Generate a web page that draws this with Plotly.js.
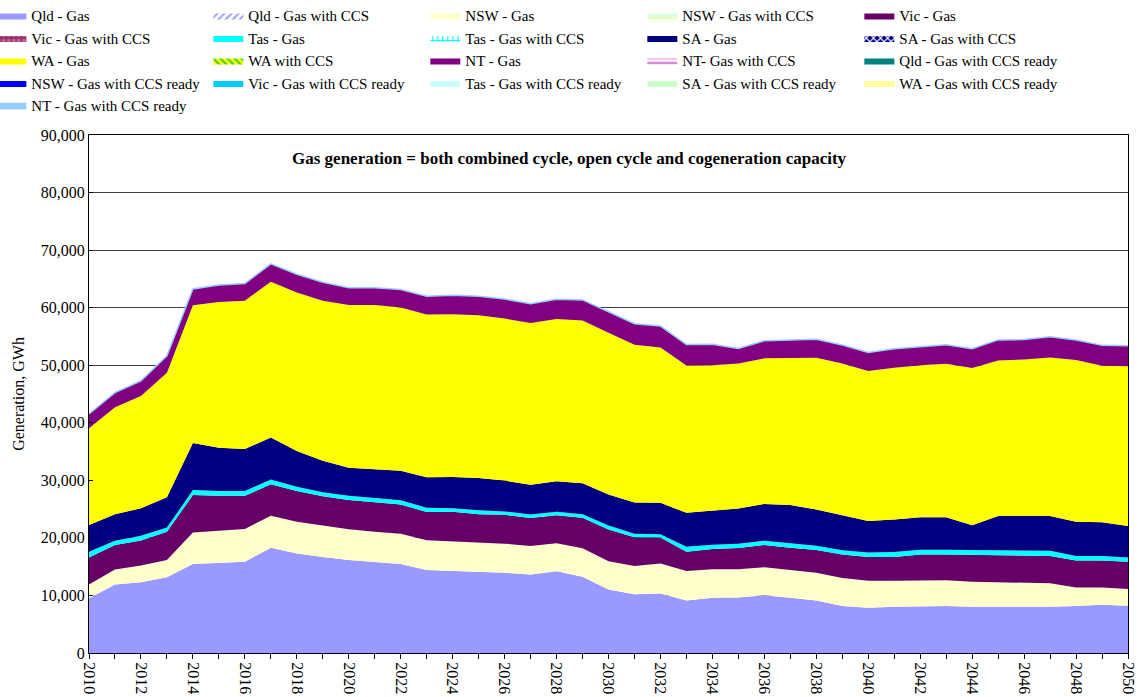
<!DOCTYPE html>
<html><head><meta charset="utf-8">
<script src="https://cdn.plot.ly/plotly-3.0.1.min.js"></script>
<style>html,body{margin:0;padding:0;background:#fff;}#chart{width:1145px;height:697px;}</style>
</head><body><div id="chart"></div>
<script>
const years = [2010,2011,2012,2013,2014,2015,2016,2017,2018,2019,2020,2021,2022,2023,2024,2025,2026,2027,2028,2029,2030,2031,2032,2033,2034,2035,2036,2037,2038,2039,2040,2041,2042,2043,2044,2045,2046,2047,2048,2049,2050];

const qldGas = [9500,11900,12300,13150,15450,15600,15850,18300,17300,16700,16150,15800,15450,14400,14250,14150,13950,13650,14200,13250,11050,10200,10350,9100,9600,9650,10050,9600,9100,8150,7850,8050,8150,8150,8050,8050,8000,8050,8150,8400,8200];
const nswGas = [2400,2600,2900,3000,5500,5600,5700,5550,5500,5450,5350,5250,5250,5200,5150,5100,5050,4950,4850,4950,4900,4900,5200,5150,4950,4900,4850,4800,4850,4900,4700,4500,4500,4500,4350,4250,4200,4050,3250,3000,2900];
const vicGas = [4700,4250,4350,4900,6500,6100,5750,5450,5350,5100,5100,5200,5100,4900,5150,4850,5000,4850,4900,5300,5500,5000,4500,3350,3500,3700,3850,3900,3950,4050,4150,4150,4450,4450,4650,4650,4650,4750,4650,4650,4750];
const tasGas = [1000,750,800,750,850,850,850,850,750,700,700,650,750,750,600,700,600,600,600,600,700,600,600,850,750,750,750,750,750,750,750,850,850,850,850,950,1000,900,800,800,750];
const saGas  = [4650,4600,4800,5250,8200,7500,7300,7300,6200,5450,4900,5050,5100,5300,5450,5600,5350,5200,5300,5400,5400,5450,5450,5900,5950,6100,6400,6650,6300,6100,5500,5650,5650,5650,4300,5900,5900,6050,5950,5850,5450];
const waGas  = [16800,18600,19500,21650,23900,25350,25750,27050,27550,27800,28250,28500,28400,28250,28250,28300,28150,28100,28200,28250,28100,27400,27000,25600,25250,25200,25300,25600,26350,26350,26050,26350,26400,26650,27300,27000,27250,27550,28100,27200,27750];
const ntGas  = [2500,2550,2650,2950,2850,2950,3000,3100,3150,3200,3000,3000,3100,3200,3300,3300,3400,3350,3400,3600,3650,3650,3700,3650,3650,2600,3050,3100,3200,3200,3200,3300,3250,3300,3350,3600,3450,3600,3500,3550,3600];
// CCS and CCS-ready capacity generates nothing in this scenario
const noGeneration = [0,0,0,0,0,0,0,0,0,0,0,0,0,0,0,0,0,0,0,0,0,0,0,0,0,0,0,0,0,0,0,0,0,0,0,0,0,0,0,0,0];

const seriesNames = ['Qld - Gas','Qld - Gas with CCS','NSW - Gas','NSW - Gas with CCS','Vic - Gas','Vic - Gas with CCS','Tas - Gas','Tas - Gas with CCS','SA - Gas','SA - Gas with CCS','WA - Gas','WA with CCS','NT - Gas','NT- Gas with CCS','Qld - Gas with CCS ready','NSW - Gas with CCS ready','Vic - Gas with CCS ready','Tas - Gas with CCS ready','SA - Gas with CCS ready','WA - Gas with CCS ready','NT - Gas with CCS ready'];
const seriesValues = [qldGas,noGeneration,nswGas,noGeneration,vicGas,noGeneration,tasGas,noGeneration,saGas,noGeneration,waGas,noGeneration,ntGas,noGeneration,noGeneration,noGeneration,noGeneration,noGeneration,noGeneration,noGeneration,noGeneration];
const seriesColors = ['#9999FF','#9999FF','#FFFFCC','#CCFFFF','#660066','#993366','#00FFFF','#00FFFF','#000080','#000080','#FFFF00','#33CC33','#800080','#CC66CC','#008080','#0000FF','#00CCFF','#CCFFFF','#CCFFCC','#FFFF99','#99CCFF'];
const seriesPatterns = [null,{shape:'/',fg:'#9999FF',bg:'#ffffff'},null,{shape:'-',fg:'#FFFF99',bg:'#CCFFFF'},null,{shape:'.',fg:'#CC6699',bg:'#993366'},null,{shape:'+',fg:'#00FFFF',bg:'#ffffff'},null,{shape:'x',fg:'#ffffff',bg:'#000080'},null,{shape:'\\',fg:'#33CC33',bg:'#FFFF00'},null,{shape:'-',fg:'#CC66CC',bg:'#ffffff'},null,null,null,null,null,null,null];

const traces = seriesNames.map((name,i) => {
  const t = {
    type:'scatter', mode:'lines', name:name, x:years, y:seriesValues[i],
    stackgroup:'gas', fillcolor:seriesColors[i],
    line:{width:0, color:seriesColors[i], shape:'linear'},
    hoverinfo:'skip'
  };
  if (seriesPatterns[i]) {
    t.fillpattern = {shape:seriesPatterns[i].shape, fgcolor:seriesPatterns[i].fg, bgcolor:seriesPatterns[i].bg, size:5, solidity:0.4};
  }
  if (i === seriesNames.length-1) { t.line = {width:1.5, color:seriesColors[i]}; }
  return t;
});

const layout = {
  width:1145, height:697,
  margin:{l:89, r:17, t:135, b:44, autoexpand:false},
  paper_bgcolor:'#ffffff', plot_bgcolor:'#ffffff',
  font:{family:'"Liberation Serif", serif', size:16, color:'#000'},
  showlegend:true,
  legend:{orientation:'h', x:-0.094, xanchor:'left', y:1.262, yanchor:'top', entrywidth:172, entrywidthmode:'pixels', traceorder:'normal', itemwidth:30, tracegroupgap:0, bgcolor:'rgba(0,0,0,0)', font:{size:15}},
  xaxis:{range:[2010,2050], tick0:2010, dtick:2, tickangle:90, ticks:'outside', ticklen:5, tickcolor:'#000', showline:true, linecolor:'#000', linewidth:1, mirror:true, showgrid:false, zeroline:false, automargin:false, tickfont:{size:16}, minor:{dtick:1, ticks:'outside', ticklen:5, tickcolor:'#000', showgrid:false}},
  yaxis:{range:[0,90000], dtick:10000, tickformat:',d', ticks:'inside', ticklen:4, tickcolor:'#000', showline:true, linecolor:'#000', linewidth:1, mirror:true, showgrid:true, gridcolor:'#404040', gridwidth:1, zeroline:false, automargin:false, tickfont:{size:16}, title:{text:'Generation, GWh', font:{size:16}, standoff:12}},
  annotations:[{text:'<b>Gas generation = both combined cycle, open cycle and cogeneration capacity</b>', xref:'paper', yref:'paper', x:0.462, y:0.955, xanchor:'center', yanchor:'middle', showarrow:false, font:{size:17}}]
};

Plotly.newPlot('chart', traces, layout, {displayModeBar:false, staticPlot:true});
</script></body></html>
